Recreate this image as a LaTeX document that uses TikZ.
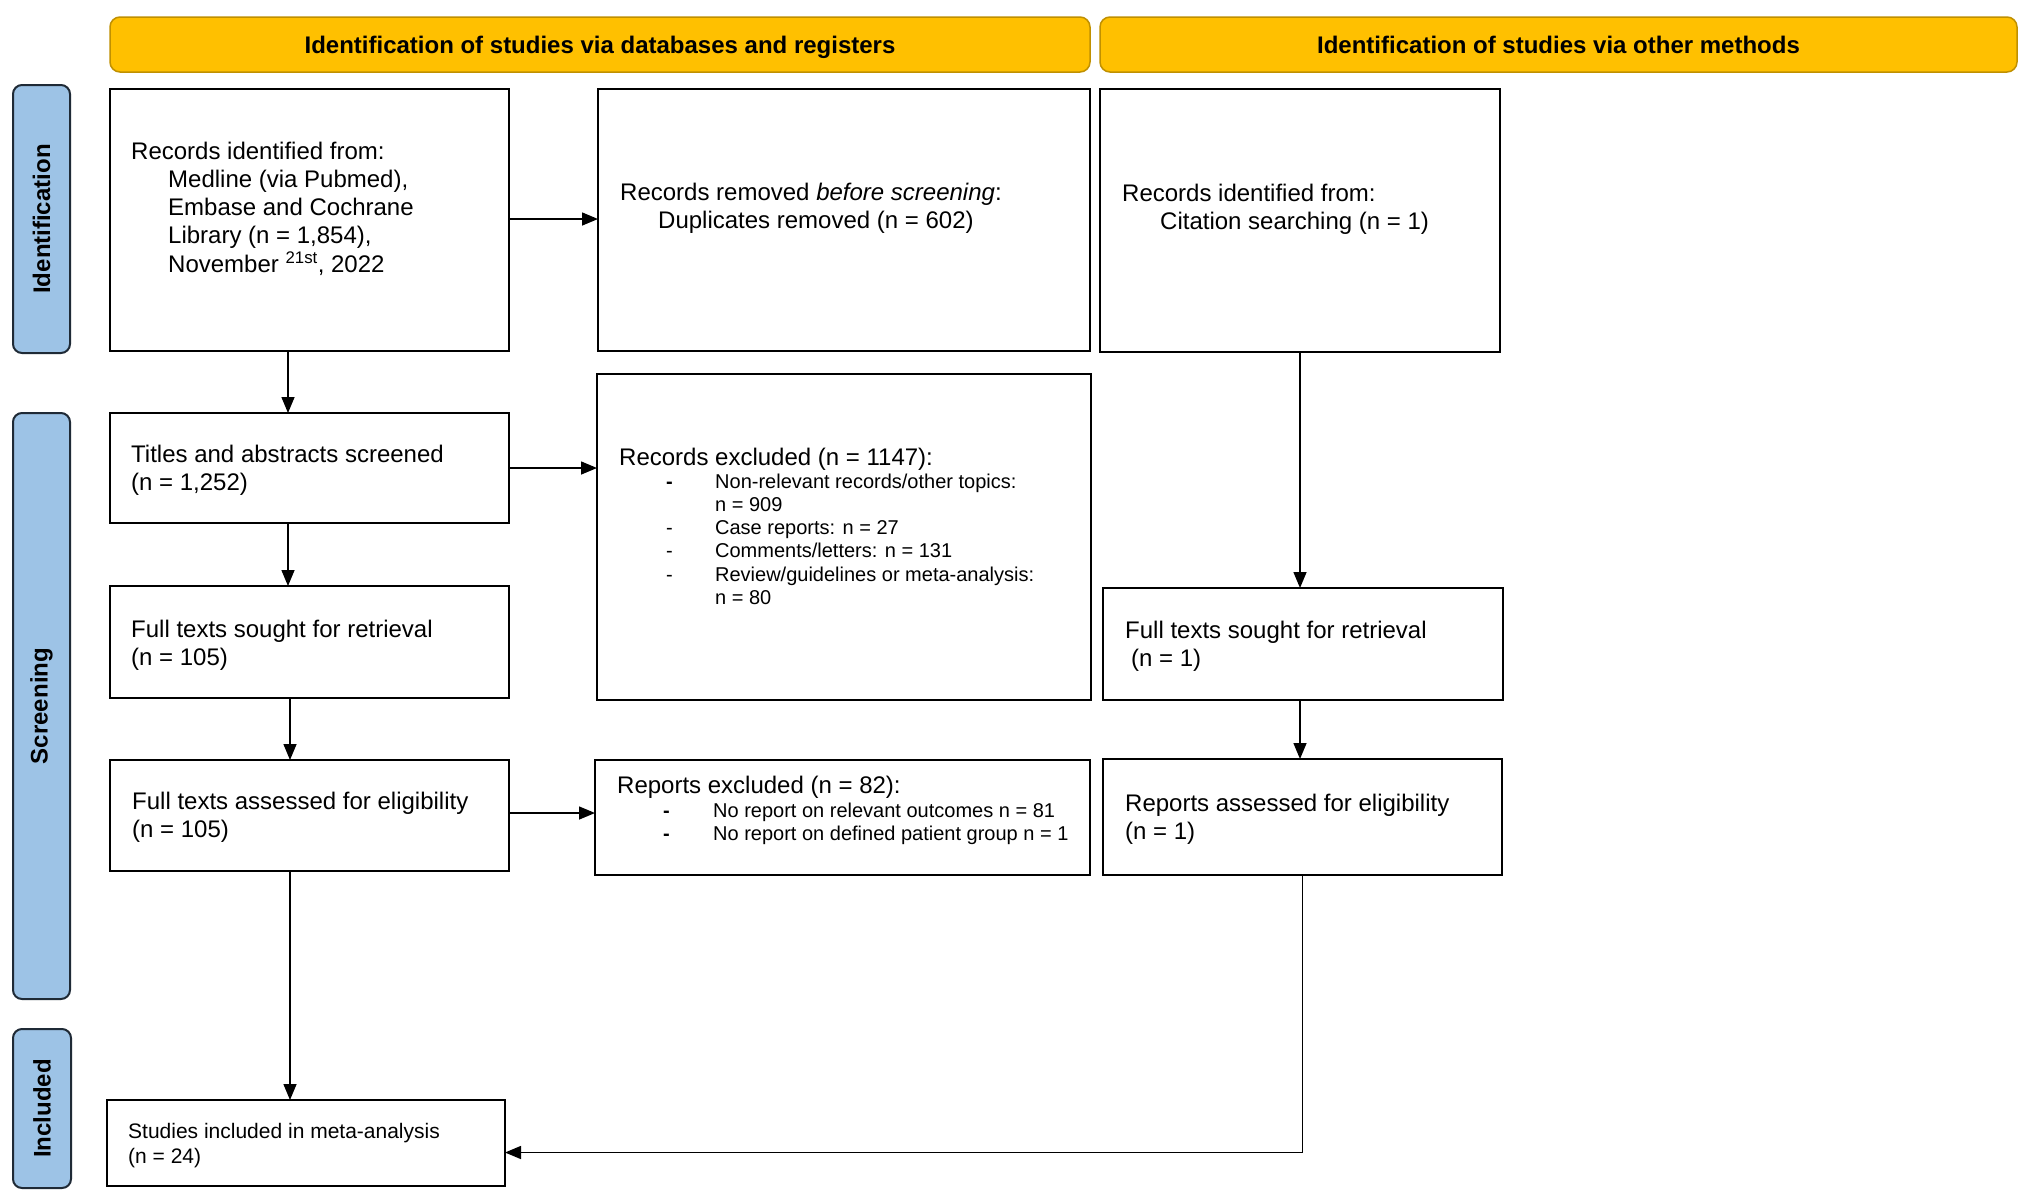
\documentclass[tikz,border=0pt]{standalone}
\usepackage{fontspec}
\setmainfont{Liberation Sans}
\usetikzlibrary{arrows.meta,calc}
\definecolor{hdrfill}{HTML}{FFC000}
\definecolor{hdrline}{HTML}{C09000}
\definecolor{sidefill}{HTML}{9DC3E6}
\definecolor{sideline}{HTML}{1F2A36}
\newcommand\mylines[1]{\begin{tabular}[t]{@{}l@{}}#1\end{tabular}}
\newcommand\mybullets[2]{\begin{tabular}[t]{@{}p{#1}@{}l@{}}#2\end{tabular}}
\begin{document}
\begin{tikzpicture}[x=1pt,y=-1pt,
  flowbox/.style={draw=black, line width=2.5pt, fill=white, inner sep=0pt, outer sep=0pt},
  hdr/.style={draw=hdrline, line width=1.5pt, fill=hdrfill, rounded corners=10pt, inner sep=0pt, text depth=0pt, font=\fontsize{24}{28}\selectfont\bfseries},
  side/.style={draw=sideline, line width=2pt, fill=sidefill, rounded corners=9pt, inner sep=0pt},
  sidetext/.style={rotate=90, font=\fontsize{24}{28}\selectfont\bfseries, inner sep=0pt},
  txt/.style={anchor=base west, inner sep=0pt, font=\fontsize{24}{28}\selectfont},
  smalltxt/.style={anchor=base west, inner sep=0pt, font=\fontsize{20}{23.3}\selectfont},
  incltxt/.style={anchor=base west, inner sep=0pt, font=\fontsize{21}{25}\selectfont},
  arr/.style={draw=black, line width=1.5pt, -{Triangle[length=16pt,width=13pt]}},
]
\useasboundingbox (0,0) rectangle (2030,1203);
\fill[white] (0,0) rectangle (2030,1203);

% headers
\node[hdr, minimum width=980pt, minimum height=55pt] (h1) at (600,44.5) {Identification of studies via databases and registers};
\node[hdr, minimum width=917pt, minimum height=55pt] (h2) at (1558.5,44.5) {Identification of studies via other methods};

% side bars
\node[side, minimum width=57pt, minimum height=268pt] (s1) at (41.5,219) {};
\node[side, minimum width=57pt, minimum height=586pt] (s2) at (41.5,706) {};
\node[side, minimum width=58pt, minimum height=159pt] (s3) at (42,1108.5) {};
\node[sidetext] (s1t) at (s1.center) {Identification};
\node[sidetext] (s2t) at (s2.center) {Screening};
\node[sidetext] (s3t) at (s3.center) {Included};

% boxes
\node[flowbox, minimum width=399pt, minimum height=262pt] (b1) at (309.5,220) {};
\node[flowbox, minimum width=492pt, minimum height=262pt] (b2) at (844,220) {};
\node[flowbox, minimum width=400pt, minimum height=263pt] (b3) at (1300,220.5) {};
\node[flowbox, minimum width=399pt, minimum height=110pt] (b4) at (309.5,468) {};
\node[flowbox, minimum width=494pt, minimum height=326pt] (b5) at (844,537) {};
\node[flowbox, minimum width=399pt, minimum height=112pt] (b6) at (309.5,642) {};
\node[flowbox, minimum width=400pt, minimum height=112pt] (b7) at (1303,644) {};
\node[flowbox, minimum width=399pt, minimum height=111pt] (b8) at (309.5,815.5) {};
\node[flowbox, minimum width=495pt, minimum height=115pt] (b9) at (842.5,817.5) {};
\node[flowbox, minimum width=399pt, minimum height=116pt] (b10) at (1302.5,817) {};
\node[flowbox, minimum width=398pt, minimum height=86pt] (b11) at (306,1143) {};

% texts
\node[txt] (t1) at (131,159) {\mylines{Records identified from:\\
  \hspace*{37pt}Medline (via Pubmed),\\
  \hspace*{37pt}Embase and Cochrane\\
  \hspace*{37pt}Library (n = 1,854),\\
  \hspace*{37pt}November \textsuperscript{21st}, 2022}};
\node[txt] (t2) at (620,200) {\mylines{Records removed \textit{before screening}:\\
  \hspace*{38pt}Duplicates removed (n = 602)}};
\node[txt] (t3) at (1122,201) {\mylines{Records identified from:\\
  \hspace*{38pt}Citation searching (n = 1)}};
\node[txt] (t4) at (131,462) {\mylines{Titles and abstracts screened\\(n = 1,252)}};
\node[txt] (t5) at (619,465) {Records excluded (n = 1147):};
\node[smalltxt] (t5b) at (666,488) {\mybullets{49pt}{\textbf{-}&Non-relevant records/other topics:\\
  &n = 909\\
  -&Case reports: n = 27\\
  -&Comments/letters: n = 131\\
  -&Review/guidelines or meta-analysis:\\
  &n = 80}};
\node[txt] (t6) at (131,637) {\mylines{Full texts sought for retrieval\\(n = 105)}};
\node[txt] (t7) at (1125,638) {\mylines{Full texts sought for retrieval\\\hspace*{6pt}(n = 1)}};
\node[txt] (t8) at (132,809) {\mylines{Full texts assessed for eligibility\\(n = 105)}};
\node[txt] (t9) at (617,793) {Reports excluded (n = 82):};
\node[smalltxt] (t9b) at (663,817) {\mybullets{50pt}{\textbf{-}&No report on relevant outcomes n = 81\\
  \textbf{-}&No report on defined patient group n = 1}};
\node[txt] (t10) at (1125,811) {\mylines{Reports assessed for eligibility\\(n = 1)}};
\node[incltxt] (t11) at (128,1138) {\mylines{Studies included in meta-analysis\\(n = 24)}};

% connectors
\draw[arr] ([xshift=-21.5pt]b1.south) -- ([xshift=-21.5pt]b1.south |- b4.north);
\draw[arr] ([xshift=-21.5pt]b4.south) -- ([xshift=-21.5pt]b4.south |- b6.north);
\draw[arr] ([xshift=-19.5pt]b6.south) -- ([xshift=-19.5pt]b6.south |- b8.north);
\draw[arr] ([xshift=-19.5pt]b8.south) -- ([xshift=-19.5pt]b8.south |- b11.north);
\draw[arr] (b1.east |- 0,219) -- (b2.west |- 0,219);
\draw[arr] (b4.east) -- (b4.east -| b5.west);
\draw[arr] (b8.east |- 0,813) -- (b9.west |- 0,813);
\draw[arr] (b3.south) -- (b3.south |- b7.north);
\draw[arr] (b7.south -| b3.south) -- (b3.south |- b10.north);
\draw[arr] (b10.south) |- ([yshift=-9.5pt]b11.east);
\end{tikzpicture}
\end{document}
